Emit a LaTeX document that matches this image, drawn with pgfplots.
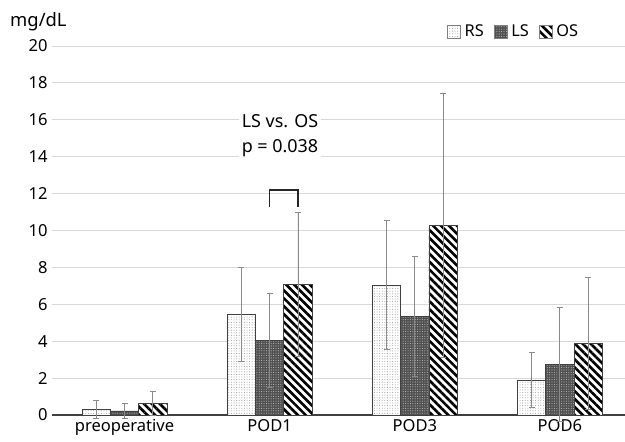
\documentclass[border=0pt]{standalone}
\usepackage{pgfplots}
\pgfplotsset{compat=1.18}
\usetikzlibrary{patterns.meta}
\usepackage{fontspec}
\setmainfont{Noto Sans}
\definecolor{gridc}{HTML}{D9D9D9}
\definecolor{errc}{HTML}{8A8A8A}
\definecolor{edgec}{HTML}{404040}
\definecolor{lsfill}{HTML}{505050}
\begin{document}
\begin{tikzpicture}
\begin{axis}[
  at={(52bp,27bp)}, anchor=south west,
  scale only axis, width=580.5bp, height=369bp,
  xmin=-0.5, xmax=3.5, ymin=0, ymax=20,
  ybar=0pt, bar width=28.3bp,
  xtick={0,1,2,3}, xticklabels={preoperative,POD1,POD3,POD6},
  ytick={0,2,...,20},
  ymajorgrids, major grid style={gridc, line width=0.9bp},
  axis lines=left, axis line style={-},
  y axis line style={draw=none},
  x axis line style={edgec, line width=1.1bp},
  major tick length=0pt,
  /pgf/number format/assume math mode=true,
  ticklabel style={font=\fontsize{16.6}{16.6}\selectfont},
  yticklabel style={xshift=-1bp},
  xticklabel style={yshift=-1bp},
  clip=false,
  error bars/y dir=both, error bars/y explicit,
  error bars/error bar style={errc, line width=0.9bp},
  error bars/error mark options={rotate=90, mark size=3bp, errc, line width=0.9bp},
  legend image code/.code={\draw[#1, draw=gray, line width=0.5bp] (0bp,-6.5bp) rectangle (13bp,6.5bp);},
  legend style={at={(0.6804,1.0385)}, anchor=west, draw=none, fill=none,
    font=\fontsize{16.4}{16.4}\selectfont, legend columns=3, inner sep=0pt,
    nodes={inner sep=0pt},
    /tikz/every odd column/.append style={column sep=4bp},
    /tikz/every even column/.append style={column sep=10bp}},
  legend cell align=left,
]
\addplot[draw=edgec, line width=0.8bp, fill=white,
  postaction={pattern={Dots[distance=2.6bp, radius=0.5bp]}, pattern color=gray!80}]
  coordinates {(0,0.31) +- (0,0.47) (1,5.47) +- (0,2.55) (2,7.03) +- (0,3.5) (3,1.9) +- (0,1.49)};
\addlegendentry{RS}
\addplot[draw=edgec, line width=0.8bp, fill=lsfill,
  postaction={pattern={Dots[distance=2.4bp, radius=0.55bp]}, pattern color=gray!55}]
  coordinates {(0,0.22) +- (0,0.38) (1,4.04) +- (0,2.54) (2,5.34) +- (0,3.23) (3,2.73) +- (0,3.09)};
\addlegendentry{LS}
\addplot[draw=edgec, line width=0.8bp, fill=white,
  postaction={pattern={Lines[angle=-45, distance=5.6bp, line width=2.6bp]}, pattern color=black}]
  coordinates {(0,0.61) +- (0,0.64) (1,7.07) +- (0,3.89) (2,10.28) +- (0,7.17) (3,3.88) +- (0,3.58)};
\addlegendentry{OS}
\node[fill=white, font=\fontsize{18}{25}\selectfont, align=center, inner sep=3bp]
  at (axis cs:1.071,15.13) {LS vs. OS\\p = 0.038};
\draw[black!85, line width=1.3bp] (axis cs:1,11.3) -- (axis cs:1,12.2) -- (axis cs:1.195,12.2) -- (axis cs:1.195,11.3);
\node[anchor=base west, font=\fontsize{18.5}{18.5}\selectfont, inner sep=0pt] at (axis description cs:-0.0723,1.0515) {mg/dL};
\end{axis}
\pgfresetboundingbox
\path (0,0) rectangle (625bp,442bp);
\end{tikzpicture}
\end{document}
